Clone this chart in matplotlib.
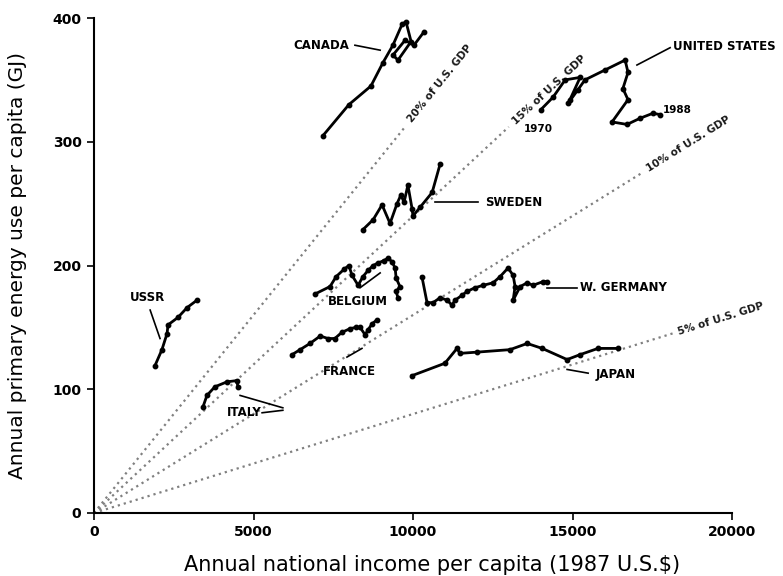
import matplotlib
matplotlib.use("Agg")
import matplotlib.pyplot as plt
import numpy as np

# ---- data (income in 1987 US$, energy in GJ per capita) ----
canada_x = [7180, 7990, 8680, 9060, 9370, 9660, 9780, 9940, 9530, 9370, 9750, 10030, 10350]
canada_y = [305, 330, 345, 364, 378, 395, 397, 381, 366, 370, 382, 378, 389]

us_x = [14010, 14390, 14770, 15240, 14920, 14860, 15170, 15390, 16020, 16650,
        16740, 16580, 16740, 16240, 16710, 17120, 17520, 17740]
us_y = [326, 336, 350, 352, 334, 331, 342, 350, 358, 366,
        356, 343, 334, 316, 314, 319, 323, 322]

sweden_x = [8430, 8750, 9030, 9280, 9500, 9620, 9720, 9840, 9970, 10000, 10220, 10600, 10850]
sweden_y = [229, 237, 249, 234, 250, 257, 251, 265, 246, 240, 247, 259, 282]

belgium_x = [6930, 7400, 7590, 7840, 7990, 8090, 8280, 8430, 8590, 8750, 8900,
             9090, 9220, 9340, 9440, 9470, 9590, 9470, 9530]
belgium_y = [177, 183, 191, 197, 200, 192, 184, 191, 196, 200, 202,
             204, 206, 203, 198, 190, 183, 179, 174]

france_x = [6210, 6460, 6770, 7090, 7340, 7550, 7770, 8030, 8210, 8340, 8500, 8590, 8720, 8870]
france_y = [128, 132, 137, 143, 141, 141, 146, 149, 150, 150, 144, 148, 153, 156]

germany_x = [10280, 10440, 10630, 10850, 11070, 11220, 11320, 11540, 11690, 11940, 12200,
             12510, 12730, 12980, 13140, 13200, 13140, 13360, 13580, 13760, 14080, 14200]
germany_y = [191, 170, 170, 174, 172, 168, 172, 176, 179, 182, 184,
             186, 191, 198, 192, 183, 172, 183, 186, 184, 187, 187]

japan_x = [9970, 11000, 11380, 11470, 12010, 13040, 13580, 14050, 14830, 15240, 15800, 16430]
japan_y = [111, 121, 133, 129, 130, 132, 137, 133, 124, 128, 133, 133]

ussr_x = [1910, 2130, 2290, 2320, 2630, 2920, 3230]
ussr_y = [119, 132, 145, 152, 158, 166, 172]

italy_x = [3420, 3540, 3790, 4170, 4480, 4510]
italy_y = [86, 95, 102, 106, 107, 102]

# constant-share lines: energy (GJ) per $ of income
share_labels = ["20% of U.S. GDP", "15% of U.S. GDP", "10% of U.S. GDP", "5% of U.S. GDP"]
share_slopes = [0.032, 0.024, 0.016, 0.008]
share_xend = [9750, 13000, 17200, 18150]

x_ticks = [0, 5000, 10000, 15000, 20000]
y_ticks = [0, 100, 200, 300, 400]

# ---- figure ----
fig = plt.figure(figsize=(7.83, 5.76), dpi=100)
ax = fig.add_axes([94 / 783, 63 / 576, 638 / 783, 495 / 576])
ax.set_xlim(0, 20000)
ax.set_ylim(0, 400)

for s, xe, lab in zip(share_slopes, share_xend, share_labels):
    xs = np.array([0, xe])
    ax.plot(xs, s * xs, linestyle=(0, (1, 1.8)), color="0.5", lw=1.6, zorder=1)
    ang = np.degrees(np.arctan(s))
    ax.text(xe + 150, s * (xe + 150), lab, rotation=ang, transform_rotates_text=True,
            rotation_mode="anchor", ha="left", va="center", fontsize=7.5,
            fontweight="bold", color="0.1")

series = [(canada_x, canada_y), (us_x, us_y), (sweden_x, sweden_y),
          (belgium_x, belgium_y), (france_x, france_y), (germany_x, germany_y),
          (japan_x, japan_y), (ussr_x, ussr_y), (italy_x, italy_y)]
for xs, ys in series:
    ax.plot(xs, ys, color="black", lw=2.0, marker="o", markersize=3.2, zorder=3)

lab_kw = dict(fontsize=8.5, fontweight="bold", color="black", va="center", ha="left")
ax.text(6240, 378, "CANADA", **lab_kw)
ax.plot([8180, 8970], [378, 374], color="black", lw=1.2)
ax.text(18150, 377, "UNITED STATES", **lab_kw)
ax.plot([18060, 17020], [376, 362], color="black", lw=1.2)
ax.text(13920, 310, "1970", fontsize=7.5, fontweight="bold", ha="center", va="center")
ax.text(18280, 326, "1988", fontsize=7.5, fontweight="bold", ha="center", va="center")
ax.text(12260, 251, "SWEDEN", **lab_kw)
ax.plot([10690, 12040], [251, 251], color="black", lw=1.2)
ax.text(15240, 182, "W. GERMANY", **lab_kw)
ax.plot([14200, 15140], [182, 182], color="black", lw=1.2)
ax.text(15710, 112, "JAPAN", **lab_kw)
ax.plot([14830, 15490], [116, 113], color="black", lw=1.2)
ax.text(7340, 171, "BELGIUM", **lab_kw)
ax.plot([8340, 8970], [182, 194], color="black", lw=1.2)
ax.text(7180, 114, "FRANCE", **lab_kw)
ax.plot([7930, 8400], [126, 133], color="black", lw=1.2)
ax.text(4170, 81, "ITALY", **lab_kw)
ax.plot([4580, 5920], [95, 85], color="black", lw=1.2)
ax.plot([5270, 5920], [81, 83], color="black", lw=1.2)
ax.text(1130, 174, "USSR", **lab_kw)
ax.plot([1760, 2070], [164, 141], color="black", lw=1.2)

for sp in ["top", "right"]:
    ax.spines[sp].set_visible(False)
for sp in ["left", "bottom"]:
    ax.spines[sp].set_linewidth(1.5)
ax.set_xticks(x_ticks)
ax.set_yticks(y_ticks)
ax.set_xticklabels([str(v) for v in x_ticks], fontsize=10, fontweight="bold")
ax.set_yticklabels([str(v) for v in y_ticks], fontsize=10, fontweight="bold")
ax.tick_params(direction="out", length=5, width=1.2, pad=4)

ax.set_xlabel("Annual national income per capita (1987 U.S.$)", fontsize=15)
ax.xaxis.set_label_coords(0.53, -0.085)
ax.set_ylabel("Annual primary energy use per capita (GJ)", fontsize=14.5)
ax.yaxis.set_label_coords(-0.105, 0.5)

fig.savefig("out.png", dpi=100)
